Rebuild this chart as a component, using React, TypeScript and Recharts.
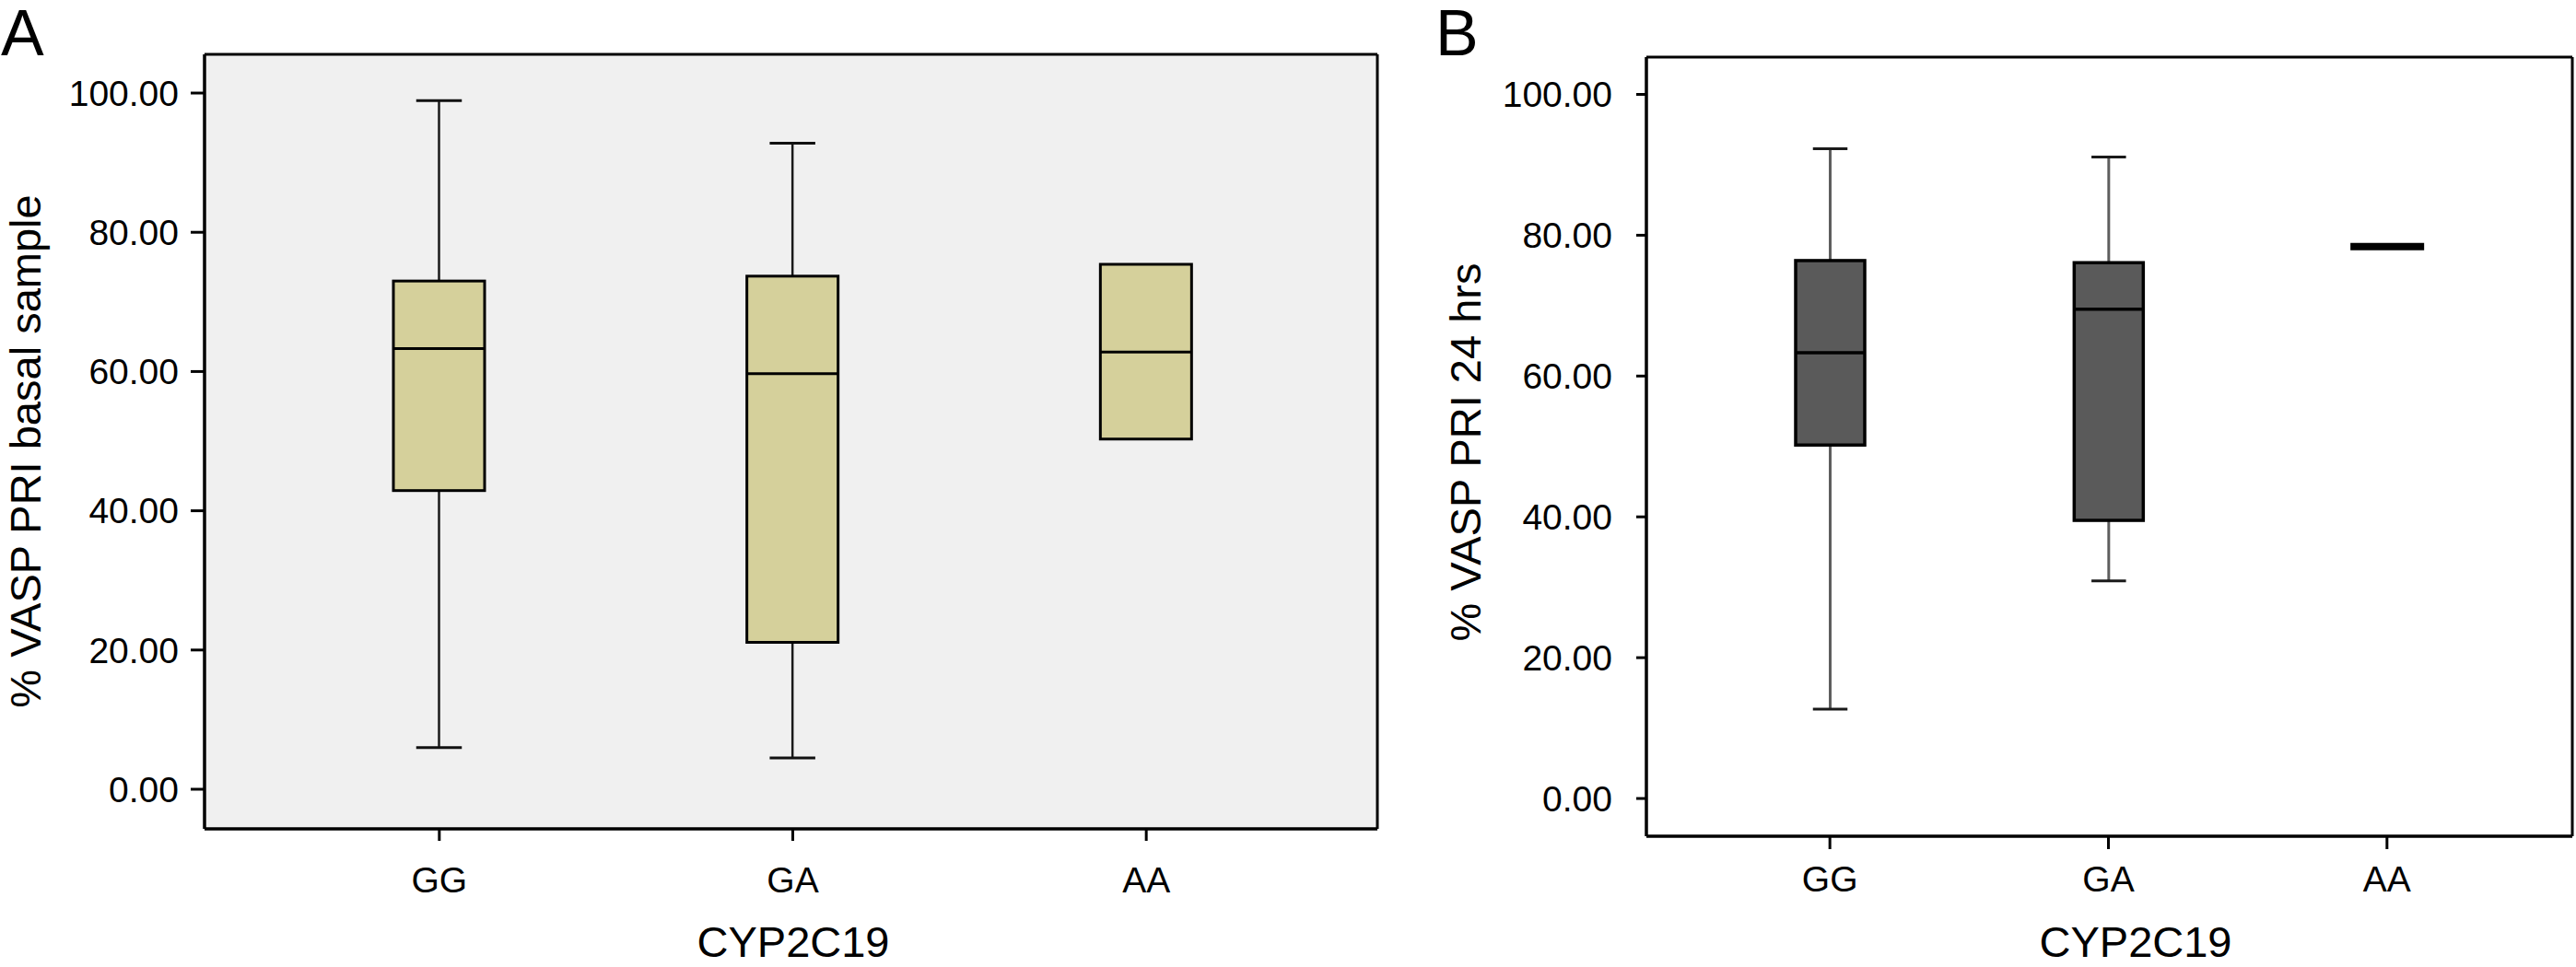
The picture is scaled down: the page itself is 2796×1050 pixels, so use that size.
import React from "react";
import { ComposedChart, Bar, XAxis, YAxis, CartesianGrid, Label } from "recharts";

const categories = ["GG", "GA", "AA"];
const yTicks = [0, 20, 40, 60, 80, 100];

// Panel A: % VASP PRI basal sample
const basalMin = [6.0, 4.5, 50.3];
const basalQ1 = [42.9, 21.1, 50.3];
const basalMedian = [63.3, 59.7, 62.8];
const basalQ3 = [73.0, 73.7, 75.4];
const basalMax = [98.9, 92.8, 75.4];

// Panel B: % VASP PRI 24 hrs
const h24Min = [12.7, 30.9, 78.4];
const h24Q1 = [50.2, 39.5, 78.4];
const h24Median = [63.3, 69.5, 78.4];
const h24Q3 = [76.4, 76.1, 78.4];
const h24Max = [92.3, 91.1, 78.4];

const buildRows = (mn: number[], q1: number[], md: number[], q3: number[], mx: number[]) =>
  categories.map((cat, i) => ({
    cat,
    min: mn[i],
    q1: q1[i],
    median: md[i],
    q3: q3[i],
    max: mx[i],
    range: [mn[i], mx[i]],
  }));

const basalRows = buildRows(basalMin, basalQ1, basalMedian, basalQ3, basalMax);
const h24Rows = buildRows(h24Min, h24Q1, h24Median, h24Q3, h24Max);

const FONT = "'Liberation Sans', Arial, Helvetica, sans-serif";

type BoxStyle = {
  fill: string;
  stroke: string;
  boxStroke: number;
  whisker: string;
  whiskerWidth: number;
  cap: string;
  flatWidth: number;
};

const makeBoxShape = (st: BoxStyle) => (props: any) => {
  const { x, y, width, height, payload } = props;
  if (payload == null || x == null) return <g />;
  const top = Math.min(y, y + height);
  const h = Math.abs(height);
  const { min, q1, median, q3, max } = payload;
  const span = max - min;
  const py = (v: number) => (span > 0 ? top + (h * (max - v)) / span : top);
  const cx = x + width / 2;
  const capHalf = width / 4;
  if (span === 0) {
    return (
      <g>
        <line x1={cx - st.flatWidth / 2} x2={cx + st.flatWidth / 2} y1={top} y2={top} stroke="#000" strokeWidth={8} />
      </g>
    );
  }
  const yMax = py(max);
  const yQ3 = py(q3);
  const yMed = py(median);
  const yQ1 = py(q1);
  const yMin = py(min);
  return (
    <g>
      {max > q3 && (
        <g>
          <line x1={cx} x2={cx} y1={yMax} y2={yQ3} stroke={st.whisker} strokeWidth={st.whiskerWidth} />
          <line x1={cx - capHalf} x2={cx + capHalf} y1={yMax} y2={yMax} stroke={st.cap} strokeWidth={3} />
        </g>
      )}
      {min < q1 && (
        <g>
          <line x1={cx} x2={cx} y1={yQ1} y2={yMin} stroke={st.whisker} strokeWidth={st.whiskerWidth} />
          <line x1={cx - capHalf} x2={cx + capHalf} y1={yMin} y2={yMin} stroke={st.cap} strokeWidth={3} />
        </g>
      )}
      <rect x={x} y={yQ3} width={width} height={yQ1 - yQ3} fill={st.fill} stroke={st.stroke} strokeWidth={st.boxStroke} />
      <line x1={x} x2={x + width} y1={yMed} y2={yMed} stroke={st.stroke} strokeWidth={st.boxStroke} />
    </g>
  );
};

const shapeA = makeBoxShape({
  fill: "#d5d09b",
  stroke: "#000",
  boxStroke: 3,
  whisker: "#1a1a1a",
  whiskerWidth: 2.5,
  cap: "#111",
  flatWidth: 99,
});

const shapeB = makeBoxShape({
  fill: "#5a5a5a",
  stroke: "#000",
  boxStroke: 3.5,
  whisker: "#5e5e5e",
  whiskerWidth: 3,
  cap: "#1a1a1a",
  flatWidth: 80,
});

const tickStyle = { fontSize: 39, fill: "#000", fontFamily: FONT };
const lineStyle = { stroke: "#000", strokeWidth: 3 };

const frameH = ({ offset }: any) => [offset.top, offset.top + offset.height];
const frameV = ({ offset }: any) => [offset.left, offset.left + offset.width];

const yTitle = (text: string, x: number, y: number) => () =>
  (
    <text x={x} y={y} transform={`rotate(-90, ${x}, ${y})`} textAnchor="middle" fontSize={47} fontFamily={FONT} fill="#000">
      {text}
    </text>
  );

const xTitle = (text: string, x: number, y: number) => () =>
  (
    <text x={x} y={y} textAnchor="middle" fontSize={47} fontFamily={FONT} fill="#000">
      {text}
    </text>
  );

const domainA: [number, number] = [-5.69, 105.56];
const domainB: [number, number] = [-5.36, 105.3];

export default function App() {
  return (
    <div style={{ position: "absolute", left: 0, top: 0, width: 2796, height: 1050, background: "#fff", fontFamily: FONT }}>
      <div style={{ position: "absolute", left: 1, top: 1, fontSize: 70, lineHeight: "70px", fontFamily: FONT, color: "#000" }}>A</div>
      <div style={{ position: "absolute", left: 1558, top: 1, fontSize: 70, lineHeight: "70px", fontFamily: FONT, color: "#000" }}>B</div>

      <div style={{ position: "absolute", left: 0, top: 0 }}>
        <ComposedChart width={1500} height={1050} data={basalRows} margin={{ top: 59, right: 5, bottom: 20, left: 22 }}>
          <CartesianGrid
            fill="#f0f0f0"
            stroke="#000"
            strokeWidth={3}
            horizontalCoordinatesGenerator={frameH}
            verticalCoordinatesGenerator={frameV}
          />
          <XAxis
            dataKey="cat"
            type="category"
            height={130}
            padding={{ left: 63, right: 59 }}
            tick={tickStyle}
            tickSize={13}
            tickMargin={28}
            axisLine={lineStyle}
            tickLine={lineStyle}
          >
            <Label content={xTitle("CYP2C19", 861, 1039)} />
          </XAxis>
          <YAxis
            type="number"
            width={200}
            domain={domainA}
            allowDataOverflow
            ticks={yTicks}
            interval={0}
            tickFormatter={(v: number) => v.toFixed(2)}
            tick={tickStyle}
            tickSize={15}
            tickMargin={13}
            axisLine={lineStyle}
            tickLine={lineStyle}
          >
            <Label content={yTitle("% VASP PRI basal sample", 44, 490)} />
          </YAxis>
          <Bar dataKey="range" barSize={99} shape={shapeA} isAnimationActive={false} />
        </ComposedChart>
      </div>

      <div style={{ position: "absolute", left: 1500, top: 0 }}>
        <ComposedChart width={1296} height={1050} data={h24Rows} margin={{ top: 62, right: 4, bottom: 12, left: 87 }}>
          <CartesianGrid
            fill="#fff"
            stroke="#000"
            strokeWidth={3}
            horizontalCoordinatesGenerator={frameH}
            verticalCoordinatesGenerator={frameV}
          />
          <XAxis
            dataKey="cat"
            type="category"
            height={130}
            padding={{ left: 48, right: 50 }}
            tick={tickStyle}
            tickSize={14}
            tickMargin={18}
            axisLine={lineStyle}
            tickLine={lineStyle}
          >
            <Label content={xTitle("CYP2C19", 818, 1039)} />
          </XAxis>
          <YAxis
            type="number"
            width={200}
            domain={domainB}
            allowDataOverflow
            ticks={yTicks}
            interval={0}
            tickFormatter={(v: number) => v.toFixed(2)}
            tick={tickStyle}
            tickSize={11}
            tickMargin={26}
            axisLine={lineStyle}
            tickLine={lineStyle}
          >
            <Label content={yTitle("% VASP PRI 24 hrs", 107, 491)} />
          </YAxis>
          <Bar dataKey="range" barSize={75} shape={shapeB} isAnimationActive={false} />
        </ComposedChart>
      </div>
    </div>
  );
}
